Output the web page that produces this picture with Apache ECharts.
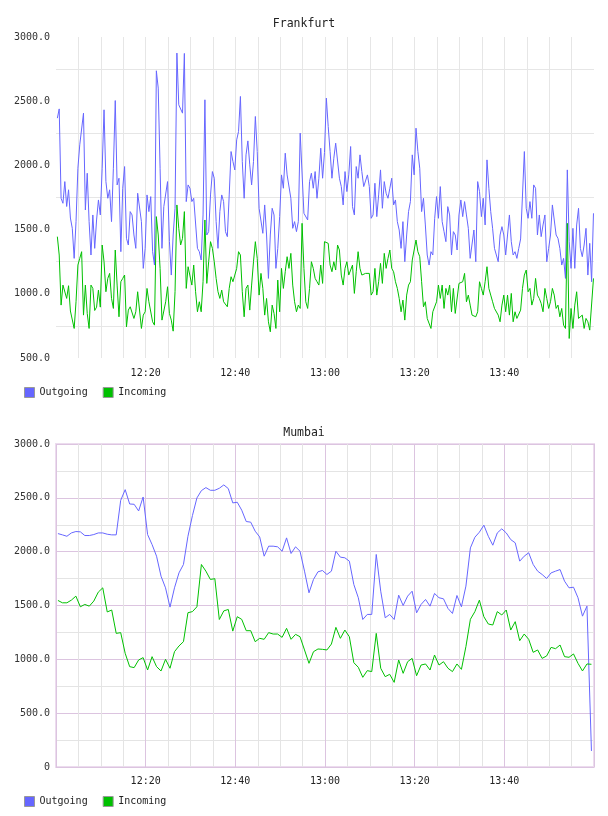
<!DOCTYPE html>
<html>
<head>
<meta charset="utf-8">
<script src="https://cdn.jsdelivr.net/npm/echarts@6/dist/echarts.min.js"></script>
<style>
  html, body { margin: 0; padding: 0; background: #fff; }
  #chart { width: 608px; height: 816px; }
</style>
</head>
<body>
<div id="chart"></div>
<script>
// Frankfurt: one sample every 25 s starting 12:00:18
var fraStart = 0.3;          // minutes after 12:00
var fraStep = 25 / 60;       // minutes
var fraOutgoing = [
  2368,2440,1744,1705,1874,1680,1810,1590,1510,1276,1562,1978,2160,2160,2407,1653,1939,1562,1302,1614,
  1354,1575,1731,1614,1978,2433,1874,1744,1810,1562,1978,2505,1848,1900,1328,1822,1991,1432,1380,1640,
  1614,1458,1354,1783,1770,1562,1198,1354,1770,1640,1757,1328,1224,2737,2602,1978,1354,1679,1666,1874,
  1406,1146,1458,1666,2875,2472,2467,2407,2872,1718,1848,1822,
  1718,1744,1744,1354,1328,1263,1614,2511,1458,1484,1770,1952,1900,1562,1354,1640,1770,1718,1484,1445,
  1770,2108,2030,1965,2199,2264,2537,2030,1744,2082,2191,2004,1848,2030,2381,2108,1666,1679,1471,1692,
  1458,1120,1458,1666,1614,1198,1354,1601,1926,1822,2095,1926,1926,1744,1510,1562,1484,1562,2251,2238,
  1627,1614,1575,1874,1939,1822,1952,1744,1900,2134,1900,2100,
  2524,2302,2108,1900,2056,2173,2186,1900,1835,1692,1952,1796,1926,2147,1679,1614,1991,1900,2082,1952,
  1835,1822,1926,1835,1588,1614,1861,1601,1770,1965,1666,1874,1783,1744,1822,1900,1692,1731,1562,1497,
  1354,1562,1250,1458,1640,1718,2082,1926,2290,2108,1978,1640,1744,1536,1302,1224,1328,1302,1588,1757,
  1588,1835,1562,1484,1406,1679,1614,1302,1484,1458,1341,1614,
  1731,1601,1718,1614,1510,1276,1263,1497,1250,1874,1796,1601,1744,1536,2043,1822,1640,1510,1354,1341,
  1250,1458,1523,1458,1302,1458,1614,1406,1302,1328,1276,1354,1427,1437,2108,1666,1588,1718,1588,1848,
  1822,1458,1614,1445,1536,1614,1250,1354,1458,1692,1705,1458,1432,1354,1224,1276,1120,1965,1406,1198,
  1510,1198,1536,1666,1354,1289,1380,1510,1146,1393,1094,1627
];
var fraIncoming = [
  1445,1302,912,1068,1073,964,1063,866,855,730,938,1224,1276,1328,834,1068,847,730,1068,1042,
  870,896,1029,896,1380,1250,1016,1120,1159,964,886,1341,1068,821,1094,1120,1146,743,873,899,
  912,808,860,1016,1016,730,834,860,1042,938,938,782,756,1601,1458,1198,795,782,938,1055,
  847,795,709,1016,1692,1510,1380,1432,1640,1042,1211,1198,
  1068,1224,1016,860,938,860,1094,1575,1081,1250,1406,1354,1250,1120,1016,964,1029,938,951,899,
  1042,1133,1094,1146,1198,1328,1302,1016,821,1042,1068,873,1068,1250,1406,1276,990,1159,1042,834,
  964,782,704,912,847,730,1107,860,1198,1042,1172,1289,1198,1315,1068,938,860,912,886,1549,
  1198,938,886,1042,1250,1198,1120,1094,1068,1224,1081,1406,
  1406,1393,1224,1172,1250,1185,1380,1341,1146,1068,1198,1250,1146,1185,1224,1003,1172,1328,1198,1146,
  1159,1159,1146,1159,990,1016,1198,990,1094,1237,1081,1315,1198,1276,1341,1198,1172,1094,1042,964,
  860,951,795,990,1068,1094,1263,1276,1419,1328,1289,1094,899,938,808,795,730,860,860,938,
  1068,964,1068,886,1042,990,1068,860,1042,847,847,1081,
  1081,1094,1159,938,990,912,834,834,821,860,1094,1042,990,1094,1211,1042,990,938,886,873,
  834,782,912,990,860,990,834,1003,782,860,808,808,873,1042,1146,1185,1016,1042,912,964,
  1120,990,964,925,860,1042,964,886,938,1042,990,886,912,821,886,756,730,1549,652,886,
  730,912,1016,808,808,834,730,808,782,717,730,1120
];

// Mumbai: one sample per minute starting 12:00:26
var mumStart = 0.43;
var mumStep = 1;
var mumOutgoing = [
  2168,2156,2143,2174,2187,2184,2150,2150,2159,2174,2174,2162,2156,2156,2477,2576,2443,2440,2378,2508,
  2159,2066,1958,1772,1664,1485,1664,1803,1881,2143,2335,2499,2567,2595,2570,2570,2589,2620,2586,2453,
  2459,2385,2280,2274,2190,2137,1958,2051,2051,2045,2004,2128,1983,2045,2004,1819,1618,1742,1813,1825,
  1788,1819,2004,1949,1943,1912,1695,1572,1370,1417,1417,1974,1633,1386,1417,1370,1596,1500,1587,1633,
  1432,1510,1556,1494,1612,1572,1562,1473,1426,1593,1488,1680,2035,2134,2181,2246,2143,2060,2174,2212,
  2174,2112,2082,1912,1958,1990,1881,1819,1788,1751,1803,1819,1834,1726,1664,1670,1572,1401,1494,149
];
var mumIncoming = [
  1547,1525,1525,1550,1587,1488,1510,1494,1541,1624,1664,1440,1458,1241,1248,1056,932,923,994,1016,
  901,1025,932,892,1000,917,1071,1124,1164,1433,1443,1488,1881,1819,1742,1749,1370,1450,1463,1262,
  1396,1371,1266,1266,1164,1195,1186,1248,1235,1235,1204,1288,1186,1232,1210,1087,963,1071,1096,1093,
  1087,1142,1297,1195,1272,1210,969,926,833,895,886,1241,917,839,861,786,994,870,978,1009,
  848,947,957,901,1040,947,978,917,886,957,907,1118,1372,1443,1550,1396,1328,1319,1443,1412,
  1458,1272,1350,1173,1235,1186,1065,1087,1009,1031,1111,1099,1133,1025,1019,1050,963,892,957,954
];

var seriesNames = ["Outgoing", "Incoming"];
var seriesColors = ["#6666ff", "#00c000"];

var mono = "DejaVu Sans Mono";

function toPairs(values, start, step) {
  return values.map(function (v, i) {
    return [start + i * step, v];
  });
}

function timeLabel(v) {
  if (v % 20 !== 0 || v <= 0 || v >= 120) return "";
  var h = 12 + Math.floor(v / 60);
  var m = v % 60;
  return h + ":" + (m < 10 ? "0" + m : m);
}

function valueLabel(v) {
  if (v % 500 !== 0) return "";
  return v === 0 ? "0" : v.toFixed(1);
}

function lineSeries(name, color, data, idx) {
  return {
    name: name,
    type: "line",
    xAxisIndex: idx,
    yAxisIndex: idx,
    data: data,
    showSymbol: false,
    symbol: "none",
    color: color,
    lineStyle: { width: 1, color: color },
    animation: false
  };
}

function legendFor(top) {
  return {
    data: seriesNames,
    left: 24,
    top: top,
    padding: 0,
    icon: "rect",
    itemWidth: 10,
    itemHeight: 10,
    itemGap: 15,
    itemStyle: { borderColor: "#999", borderWidth: 1 },
    textStyle: { fontFamily: mono, fontSize: 10, color: "#222" }
  };
}

var chart = echarts.init(document.getElementById("chart"));

chart.setOption({
  animation: false,
  title: [
    {
      text: "Frankfurt",
      left: "center",
      top: 13,
      textStyle: { fontFamily: mono, fontSize: 11.5, fontWeight: "normal", color: "#222" }
    },
    {
      text: "Mumbai",
      left: "center",
      top: 422,
      textStyle: { fontFamily: mono, fontSize: 11.5, fontWeight: "normal", color: "#222" }
    }
  ],
  legend: [legendFor(387), legendFor(796)],
  grid: [
    { left: 56, right: 14, top: 37, height: 321 },
    {
      left: 56, right: 14, top: 444, height: 323,
      show: true, borderColor: "#ecdcee", borderWidth: 2
    }
  ],
  xAxis: [
    {
      gridIndex: 0,
      type: "value",
      min: 0,
      max: 120,
      interval: 5,
      axisLine: { show: false },
      axisTick: { show: false },
      axisLabel: { formatter: timeLabel, fontFamily: mono, fontSize: 10, color: "#222", margin: 10 },
      splitLine: {
        show: true,
        showMinLine: false,
        showMaxLine: false,
        lineStyle: { color: "#e6e6e6", width: 1 }
      }
    },
    {
      gridIndex: 1,
      type: "value",
      min: 0,
      max: 120,
      interval: 5,
      axisLine: { show: false },
      axisTick: { show: false },
      axisLabel: { formatter: timeLabel, fontFamily: mono, fontSize: 10, color: "#222", margin: 9 },
      splitLine: {
        show: true,
        lineStyle: { color: ["#dcc4e0", "#e4e4e4", "#e4e4e4", "#e4e4e4"], width: 1 }
      }
    }
  ],
  yAxis: [
    {
      gridIndex: 0,
      type: "value",
      min: 500,
      max: 3000,
      interval: 250,
      axisLine: { show: false },
      axisTick: { show: false },
      axisLabel: { formatter: valueLabel, fontFamily: mono, fontSize: 10, color: "#333", margin: 6 },
      splitLine: {
        show: true,
        lineStyle: { color: ["rgba(0,0,0,0)", "#e6e6e6"], width: 1 }
      }
    },
    {
      gridIndex: 1,
      type: "value",
      min: 0,
      max: 3000,
      interval: 250,
      axisLine: { show: false },
      axisTick: { show: false },
      axisLabel: { formatter: valueLabel, fontFamily: mono, fontSize: 10, color: "#333", margin: 6 },
      splitLine: {
        show: true,
        lineStyle: { color: ["#dcc4e0", "#e4e4e4"], width: 1 }
      }
    }
  ],
  series: [
    lineSeries(seriesNames[0], seriesColors[0], toPairs(fraOutgoing, fraStart, fraStep), 0),
    lineSeries(seriesNames[1], seriesColors[1], toPairs(fraIncoming, fraStart, fraStep), 0),
    lineSeries(seriesNames[0], seriesColors[0], toPairs(mumOutgoing, mumStart, mumStep), 1),
    lineSeries(seriesNames[1], seriesColors[1], toPairs(mumIncoming, mumStart, mumStep), 1)
  ]
});
</script>
</body>
</html>
